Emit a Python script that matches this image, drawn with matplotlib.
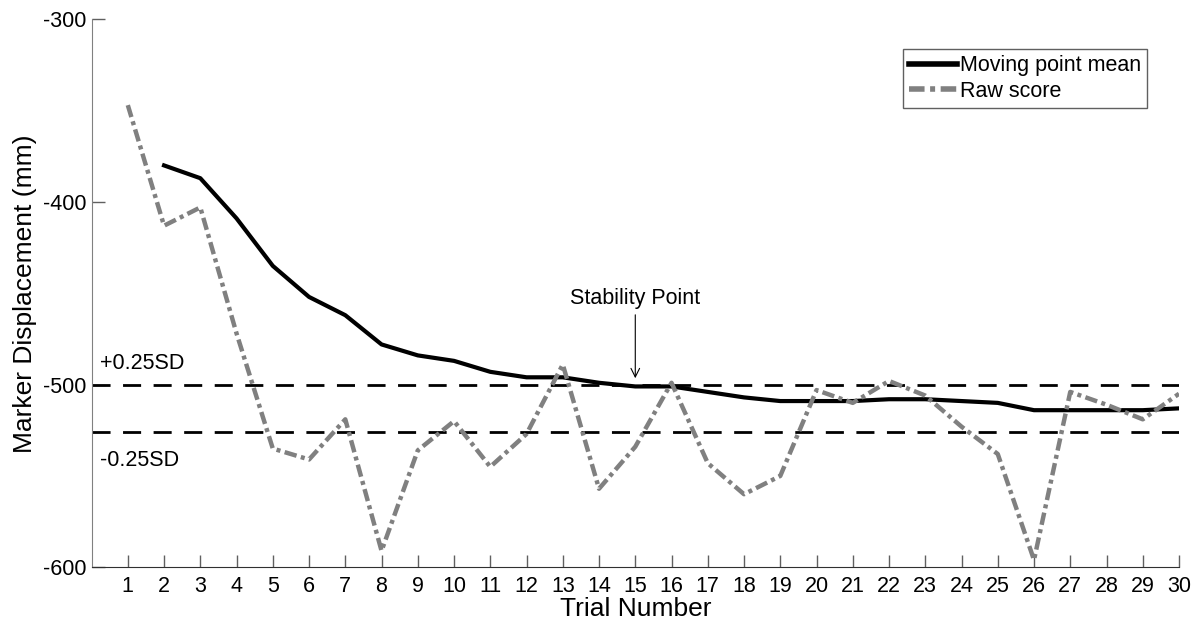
import matplotlib.pyplot as plt

plt.rcParams['font.family'] = ['Liberation Sans', 'DejaVu Sans']
plt.rcParams['axes.unicode_minus'] = False

# Data
trials = list(range(1, 31))
raw_score = [-347, -413, -403, -472, -535, -541, -519, -591, -536, -520,
             -545, -527, -489, -557, -534, -499, -543, -560, -550, -503,
             -510, -498, -506, -523, -538, -596, -504, -511, -519, -505]
mean_trials = list(range(2, 31))
moving_mean = [-380, -387, -409, -435, -452, -462, -478, -484, -487, -493,
               -496, -496, -499, -501, -501, -504, -507, -509, -509, -509,
               -508, -508, -509, -510, -514, -514, -514, -514, -513]
upper_sd = -500
lower_sd = -526
stability_trial = 15

fig = plt.figure(figsize=(12, 6.26), dpi=100)
ax = fig.add_axes([0.0763, 0.0938, 0.9062, 0.8754])

# Band lines
ax.plot([0, 30], [upper_sd, upper_sd], color="black", lw=2, dashes=(6.5, 4.5))
ax.plot([0, 30], [lower_sd, lower_sd], color="black", lw=2, dashes=(6.5, 4.5))

# Series
ax.plot(mean_trials, moving_mean, color="black", lw=3, label="Moving point mean")
ax.plot(trials, raw_score, color="#808080", lw=3.2, dashes=(2.8, 1.0, 0.9, 1.0),
        label="Raw score")

# Text annotations
ax.text(0.23, upper_sd + 6, "+0.25SD", fontsize=15.5, va="bottom", ha="left")
ax.text(0.23, lower_sd - 10, "-0.25SD", fontsize=15.5, va="top", ha="left")
ax.annotate("Stability Point", xy=(stability_trial, -496.5),
            xytext=(stability_trial, -453), fontsize=15.5,
            ha="center", va="center",
            arrowprops=dict(arrowstyle="->", color="black", lw=0.8,
                            shrinkA=2, shrinkB=0))

# Axes styling
ax.set_xlim(0, 30)
ax.set_ylim(-600, -300)
ax.set_xticks(trials)
ax.set_yticks([-600, -500, -400, -300])
ax.tick_params(direction="in", length=9, width=1, colors="#606060",
               labelcolor="black", labelsize=15.5)
ax.tick_params(axis="x", pad=6)
ax.tick_params(axis="y", pad=4)
ax.spines["top"].set_visible(False)
ax.spines["right"].set_visible(False)
ax.spines["left"].set_color("#808080")
ax.spines["bottom"].set_color("#303030")

ax.set_xlabel("Trial Number", fontsize=19, labelpad=0)
ax.set_ylabel("Marker Displacement (mm)", fontsize=19, labelpad=4)

leg = ax.legend(loc="upper left", bbox_to_anchor=(0.746, 0.946),
                borderaxespad=0, fontsize=15.5, handlelength=2.2,
                handletextpad=0.15, labelspacing=0.2, borderpad=0.3,
                fancybox=False, framealpha=1)
leg.get_frame().set_edgecolor("#606060")
leg.get_frame().set_linewidth(1)
for line in leg.get_lines():
    line.set_linewidth(4)

fig.savefig("out.png", dpi=100)
